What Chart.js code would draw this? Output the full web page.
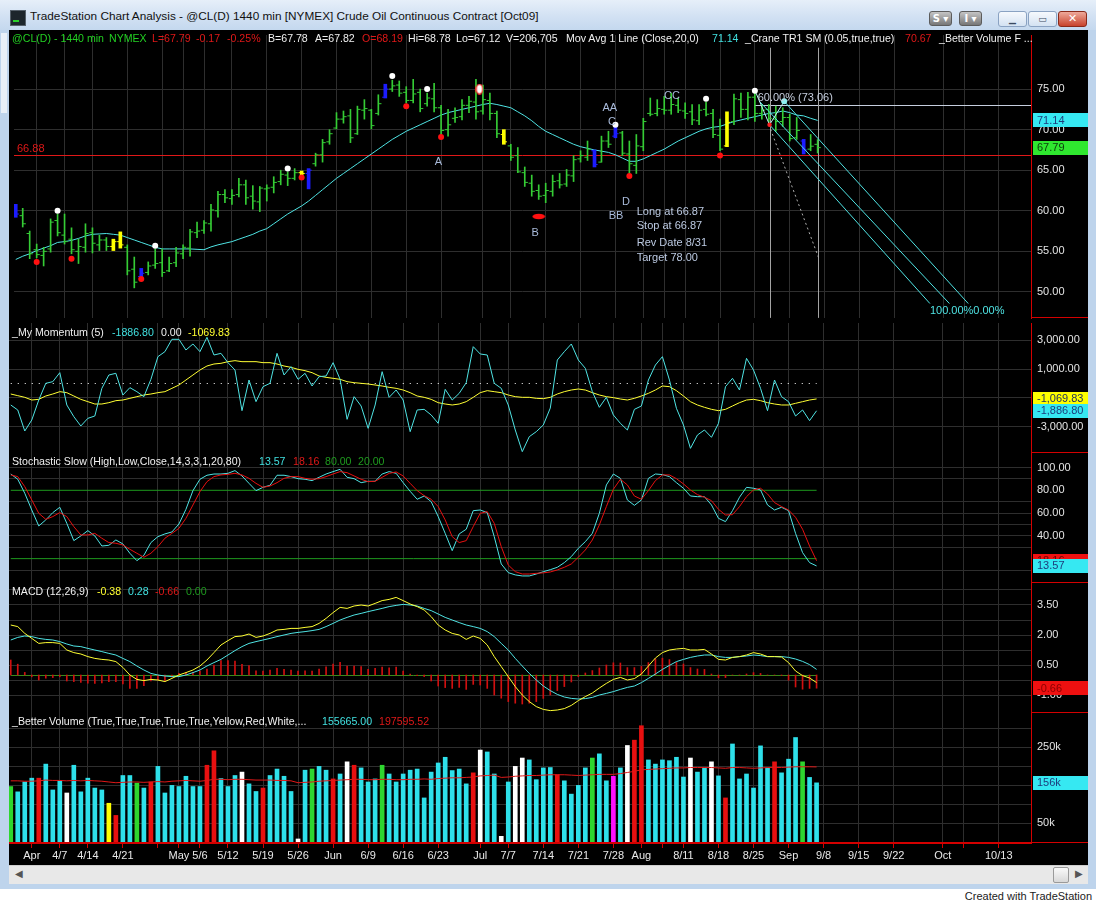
<!DOCTYPE html>
<html>
<head>
<meta charset="utf-8">
<title>TradeStation Chart Analysis - @CL(D)</title>
<script src="https://cdn.jsdelivr.net/npm/chart.js@4.4.1/dist/chart.umd.min.js"></script>
<style>
  body { margin: 0; background: #fff; font-family: 'Liberation Sans', Arial, sans-serif; }
  #frame { position: absolute; left: 0; top: 0; width: 1096px; height: 889px; background: #bed4ec; }
  #titlebar { position: absolute; left: 0; top: 0; width: 1096px; height: 30px;
              background: linear-gradient(#e6eff9, #d2e1f3 55%, #c4d8ee); }
  #appicon { position: absolute; left: 10px; top: 10px; width: 14px; height: 14px; background: #1d262c;
             border: 1px solid #55606a; }
  #appicon:after { content: ''; position: absolute; left: 2px; top: 9px; width: 6px; height: 2px; background: #2ad02a; }
  #title { position: absolute; left: 30px; top: 9px; font-size: 11.8px; color: #111; white-space: nowrap; }
  .gbtn { position: absolute; top: 11px; width: 21px; height: 13px; border-radius: 3px; border: 1px solid #5c5c5c;
          background: linear-gradient(#c4c4c4, #777); color: #fff; font: bold 10px 'DejaVu Sans', sans-serif;
          text-align: center; line-height: 13px; }
  .wbtn { position: absolute; top: 11px; width: 27px; height: 14px; border-radius: 3px; border: 1px solid #8aa2c2;
          background: linear-gradient(#f6f9fd, #d4e2f2); color: #3a4a60; font: bold 9px 'DejaVu Sans', sans-serif;
          text-align: center; line-height: 14px; }
  .wbtn.close { background: linear-gradient(#eea99a, #c8432c); border-color: #8a2a1a; color: #fff; font-size: 11px; }
  #leftstrip { position: absolute; left: 1px; top: 33px; width: 6px; height: 80px; background: #e9f0f8; }
  #plot { position: absolute; left: 9px; top: 30px; width: 1079px; height: 835px; background: #000; overflow: hidden; }
  #plot canvas { position: absolute; left: 0; }
  .hdr { position: absolute; left: 0; height: 14px; width: 1022px; font-size: 10.6px; line-height: 14px; white-space: nowrap; }
  .hdr span { position: absolute; top: 0; }
  #hscroll { position: absolute; left: 9px; top: 865px; width: 1079px; height: 18px; background: #e8e8e8;
             border-top: 1px solid #cfcfcf; }
  #hscroll .arrow { position: absolute; top: 2px; font: 10px 'DejaVu Sans', sans-serif; color: #555; }
  #hscroll .thumb { position: absolute; left: 1044px; top: 1px; width: 14px; height: 14px; border-radius: 2px;
                    border: 1px solid #9a9a9a; background: linear-gradient(#fafafa, #d8d8d8); }
  #credit { position: absolute; top: 890px; right: 4px; font-size: 11px; color: #222; }
</style>
</head>
<body>
<div id="frame">
  <div id="titlebar">
    <div id="appicon"></div>
    <div id="title">TradeStation Chart Analysis - @CL(D) 1440 min [NYMEX] Crude Oil Continuous Contract [Oct09]</div>
    <div class="gbtn" style="left:929px">S ▾</div>
    <div class="gbtn" style="left:959px">I ▾</div>
    <div class="wbtn" style="left:998px">▁</div>
    <div class="wbtn" style="left:1028px">▭</div>
    <div class="wbtn close" style="left:1058px">✕</div>
  </div>
  <div id="leftstrip"></div>
  <div id="plot">
    <canvas id="cPrice" width="1079" height="293" style="top:0"></canvas>
    <canvas id="cMom" width="1079" height="130" style="top:293px"></canvas>
    <canvas id="cStoch" width="1079" height="130" style="top:423px"></canvas>
    <canvas id="cMacd" width="1079" height="130" style="top:553px"></canvas>
    <canvas id="cVol" width="1079" height="152" style="top:683px"></canvas>

    <div class="hdr" style="top:1px">
      <span style="left:3px;color:#22d022">@CL(D) - 1440 min</span>
      <span style="left:100px;color:#22d022">NYMEX</span>
      <span style="left:143px;color:#e01818">L=67.79</span>
      <span style="left:187px;color:#e01818">-0.17</span>
      <span style="left:218px;color:#e01818">-0.25%</span>
      <span style="left:259px;color:#f0f0f0">B=67.78</span>
      <span style="left:306px;color:#f0f0f0">A=67.82</span>
      <span style="left:353px;color:#e01818">O=68.19</span>
      <span style="left:399px;color:#f0f0f0">Hi=68.78</span>
      <span style="left:447px;color:#f0f0f0">Lo=67.12</span>
      <span style="left:497px;color:#f0f0f0">V=206,705</span>
      <span style="left:557px;color:#f0f0f0">Mov Avg 1 Line (Close,20,0)</span>
      <span style="left:703px;color:#40e0e0">71.14</span>
      <span style="left:736px;color:#f0f0f0">_Crane TR1 SM (0.05,true,true)</span>
      <span style="left:896px;color:#e01818">70.67</span>
      <span style="left:930px;color:#f0f0f0">_Better Volume F ...</span>
    </div>
    <div class="hdr" style="top:295px">
      <span style="left:3px;color:#f0f0f0">_My Momentum (5)</span>
      <span style="left:103px;color:#40e0e0">-1886.80</span>
      <span style="left:152px;color:#f0f0f0">0.00</span>
      <span style="left:179px;color:#ffff30">-1069.83</span>
    </div>
    <div class="hdr" style="top:424px">
      <span style="left:3px;color:#f0f0f0">Stochastic Slow (High,Low,Close,14,3,3,1,20,80)</span>
      <span style="left:250px;color:#40e0e0">13.57</span>
      <span style="left:284px;color:#e01818">18.16</span>
      <span style="left:316px;color:#1e9a1e">80.00</span>
      <span style="left:349px;color:#1e9a1e">20.00</span>
    </div>
    <div class="hdr" style="top:554px">
      <span style="left:3px;color:#f0f0f0">MACD (12,26,9)</span>
      <span style="left:88px;color:#ffff30">-0.38</span>
      <span style="left:119px;color:#40e0e0">0.28</span>
      <span style="left:146px;color:#e01818">-0.66</span>
      <span style="left:177px;color:#1e9a1e">0.00</span>
    </div>
    <div class="hdr" style="top:684px">
      <span style="left:3px;color:#f0f0f0">_Better Volume (True,True,True,True,True,Yellow,Red,White,...</span>
      <span style="left:313px;color:#40e0e0">155665.00</span>
      <span style="left:370px;color:#e01818">197595.52</span>
    </div>
  </div>
  <div id="hscroll">
    <span class="arrow" style="left:6px">◀</span>
    <div class="thumb"></div>
    <span class="arrow" style="left:1066px">▶</span>
  </div>
</div>
<div id="credit">Created with TradeStation</div>

<script>
// daily bars, 27 Mar .. 4 Sep (116 sessions)
const priceHigh = [60.8,60.3,57.5,55.9,55.5,59.0,59.6,59.6,57.9,56.5,
  58.4,57.9,57.0,56.7,56.5,57.4,55.8,54.3,52.9,53.7,
  55.3,55.3,54.3,55.5,55.8,57.7,58.6,58.8,60.8,62.4,
  62.6,62.6,64.0,63.8,63.1,63.0,63.2,64.2,65.0,64.8,
  65.2,64.9,65.2,67.1,68.8,70.0,72.1,72.3,72.5,72.9,
  73.7,72.5,74.3,75.6,76.1,76.0,75.3,76.2,75.0,74.5,
  75.7,73.0,72.5,72.7,73.7,74.1,76.2,75.5,74.5,72.3,
  70.0,68.2,67.8,65.4,64.4,63.2,63.4,64.4,64.6,65.1,
  66.8,67.4,68.6,67.5,69.2,69.8,70.4,69.8,68.6,69.4,
  71.4,73.9,73.7,74.1,74.5,73.9,73.3,73.1,73.1,73.4,
  72.5,71.3,72.2,74.4,74.5,74.6,74.5,73.1,73.1,72.9,
  72.7,71.9,71.5,68.8,69.4,68.78];
const priceLow = [59.2,58.0,54.1,54.2,53.2,54.9,56.9,55.9,54.7,53.5,
  54.9,54.8,55.1,55.1,55.1,55.4,52.1,50.5,51.8,52.1,
  52.9,51.9,52.5,53.1,54.1,54.4,56.7,57.2,57.5,59.2,
  61.0,60.8,61.7,60.8,60.2,59.9,61.2,62.2,63.2,63.1,
  63.8,64.4,62.7,65.5,66.0,68.2,70.1,70.8,68.4,69.4,
  71.3,70.1,71.8,73.9,74.7,74.1,73.3,73.3,72.2,72.9,
  72.2,69.4,69.2,70.9,71.2,72.1,71.3,71.9,71.2,69.0,
  68.2,66.2,64.7,63.0,61.8,61.4,61.0,61.8,62.8,63.0,
  63.6,66.0,66.2,65.4,66.0,67.8,69.0,66.8,64.6,64.6,
  67.4,71.7,71.7,71.9,71.9,72.1,71.4,70.6,70.6,71.7,
  69.0,67.4,67.9,70.6,71.5,71.2,71.0,71.3,70.8,69.8,
  70.4,68.6,68.8,67.0,67.4,67.12];
const priceOpen = [60.2,59.4,57.2,55.2,54.5,55.3,58.8,57.0,56.5,55.0,
  55.5,57.3,55.8,56.4,55.6,56.2,55.5,52.8,51.9,52.4,
  53.3,53.6,52.6,53.6,54.7,55.4,57.3,57.6,58.4,60.0,
  62.0,61.5,62.0,63.2,61.8,61.1,62.7,62.9,63.6,64.4,
  64.0,64.7,64.6,65.8,66.9,68.5,70.2,71.3,71.7,69.5,
  72.4,72.4,72.0,74.0,75.0,75.5,74.6,73.6,74.6,73.2,
  73.8,72.7,70.0,71.4,71.6,73.0,73.4,72.3,73.6,72.0,
  69.4,68.0,66.8,64.7,63.4,62.5,61.9,62.4,63.7,63.3,
  64.3,66.4,66.6,67.4,66.0,68.6,69.2,69.6,67.0,65.6,
  67.9,72.0,72.0,72.5,72.4,73.0,72.3,72.2,71.1,72.5,
  72.0,69.3,68.0,71.0,73.7,72.5,74.0,72.0,72.5,71.3,
  71.0,71.5,69.0,68.6,67.6,68.19];
const priceClose = [59.6,58.4,54.7,54.6,55.0,58.6,57.3,56.2,55.2,55.6,
  57.2,56.0,56.4,55.6,56.2,55.8,52.6,51.2,52.3,53.2,
  53.5,52.4,53.5,54.8,55.5,57.4,57.5,58.5,60.1,62.0,
  61.6,61.9,63.2,61.6,61.2,62.8,62.8,63.5,64.5,64.0,
  64.7,64.6,65.0,66.9,68.4,69.5,71.3,71.6,69.0,72.5,
  72.6,70.5,73.2,75.0,75.4,74.5,73.6,74.4,72.6,73.9,
  72.7,69.9,70.6,71.5,73.0,73.5,72.2,73.7,72.0,69.5,
  68.5,66.6,64.8,63.5,62.4,61.8,62.5,63.6,63.2,64.4,
  66.3,66.8,67.6,65.7,68.6,68.2,69.5,67.1,65.8,68.0,
  71.0,71.9,72.6,72.4,73.1,72.4,72.0,71.2,72.4,71.9,
  69.4,67.6,70.9,73.8,72.5,74.0,72.0,72.4,71.4,71.0,
  71.5,68.9,69.9,67.5,67.96,67.79];
// bar paint: g green, b blue, y yellow
const barPaint = ('bggggggggg' + 'ggggyyggbg' + 'gggggggggg' + 'gggggggggg' + 'gybggggggg' +
  'gggbgggggg' + 'gggggggggg' + 'yggggggggg' + 'gggbggbggg' + 'gggggggggg' + 'ggyggggggg' + 'gggbgg').split('');
const ma20 = [54.0,54.4,54.7,55.1,55.4,55.7,56.1,56.2,56.35,56.6,
  56.9,57.1,57.15,57.2,57.1,57.0,56.7,56.4,56.1,55.8,
  55.5,55.3,55.3,55.3,55.3,55.3,55.25,55.2,55.55,55.8,
  56.0,56.2,56.5,56.8,57.1,57.5,57.8,58.4,59.0,59.6,
  60.1,60.6,61.2,61.9,62.6,63.3,64.0,64.6,65.2,65.8,
  66.4,67.0,67.6,68.2,68.8,69.3,69.8,70.2,70.6,71.0,
  71.4,71.8,72.1,72.3,72.5,72.7,72.9,73.1,73.25,73.1,
  72.9,72.7,72.2,71.7,71.1,70.4,69.8,69.4,69.0,68.6,
  68.2,67.9,67.7,67.5,67.35,67.2,66.9,66.5,66.1,66.1,
  66.4,66.8,67.2,67.6,68.1,68.6,69.0,69.4,69.8,70.1,
  70.3,70.4,70.7,71.0,71.2,71.4,71.6,71.8,72.0,72.1,
  72.3,72.1,71.8,71.7,71.4,71.14];

// signal markers on the price pane
const redDotIdx = [3, 8, 18, 41, 56, 61, 88, 101];
const redDotVal = [53.7, 54.1, 51.6, 64.1, 72.9, 69.1, 64.3, 66.8];
const whiteDotIdx = [6, 20, 39, 54, 59, 86, 99, 106];
const whiteDotVal = [60.0, 55.7, 65.2, 76.6, 75.0, 70.6, 73.8, 74.8];
const ringDot = [66.5, 75.0];
const ovalDot = [75, 59.3];
// pitchfork pivots P1, P2, P3 and its tines
const pivots = [[106.0, 74.85], [108.1, 70.6], [110.2, 73.49]];
const tines = [[[108.1, 70.6], [131.1, 48.57]], [[106.6, 73.54], [133.9, 48.57]], [[110.2, 73.49], [136.6, 48.57]]];
const projection = [[108.0, 70.63], [115.2, 54.08]];
const stopLevel = 66.88;
const fibLevel = 73.06;

const momentum = [-1488,-1834,-3287,-2526,-1142,12,127,750,-1488,-2295,
  -2941,-2411,-2249,-335,588,704,-796,-288,-565,-911,
  288,1857,2203,3057,3057,2318,2734,2203,3195,1972,
  2088,1442,934,-1880,242,-1257,-219,12,2088,588,
  1165,288,704,-173,473,519,1442,288,-2480,-911,
  -1557,-3103,-1488,819,-957,-450,-1142,-3333,-1834,-1788,
  -2180,-2757,-404,-1142,-680,58,2549,2042,1972,12,
  -335,-1488,-3218,-4717,-3679,-3333,-2872,-1700,1626,2203,
  2734,1626,1050,-565,-1649,-957,-2180,-2757,-3218,-1788,
  -1557,242,1280,1857,242,-1718,-2872,-4487,-3564,-3218,
  -3725,-2757,-219,358,-450,1742,934,-335,-1880,242,
  -911,-1257,-2249,-1834,-2572,-1887];
const momentumAvg = [-727,-842,-957,-1142,-1096,-865,-727,-565,-634,-865,
  -1096,-1257,-1419,-1419,-1326,-1188,-1142,-1027,-911,-796,
  -727,-634,-565,-335,-104,242,588,934,1211,1349,
  1396,1511,1580,1511,1511,1511,1442,1442,1349,1211,
  1119,980,888,750,519,427,358,288,127,58,
  12,-35,-104,-173,-265,-335,-450,-634,-865,-957,
  -1096,-1326,-1419,-1488,-1419,-1257,-957,-634,-496,-565,
  -634,-796,-911,-957,-957,-1027,-1050,-957,-727,-565,
  -450,-381,-450,-634,-796,-911,-980,-1073,-1142,-1027,
  -865,-681,-450,-173,-219,-496,-865,-1257,-1488,-1649,
  -1788,-1880,-1788,-1557,-1326,-1142,-1096,-1188,-1326,-1419,
  -1488,-1488,-1373,-1257,-1142,-1070];

const stochK = [94.3,89.7,77.4,62.7,48.7,54.0,60.4,65.1,51.0,35.8,
  39.9,44.6,39.9,31.1,31.7,36.4,32.9,24.7,18.2,22.9,
  34.1,39.3,41.7,43.4,50.4,63.3,79.7,89.7,93.2,94.3,
  94.3,94.9,97.3,92.6,86.1,79.7,82.6,84.4,93.2,93.2,
  92.0,90.2,89.7,88.5,91.4,94.3,96.4,98.4,91.4,90.2,
  86.7,87.9,87.9,94.3,96.4,94.9,86.7,79.1,72.1,75.0,
  70.0,56.9,42.2,27.0,41.7,45.8,62.1,62.7,60.4,39.3,
  15.3,7.7,5.7,4.8,4.8,6.5,8.5,10.3,12.4,16.5,
  21.8,29.1,34.9,42.2,59.8,84.7,94.3,90.5,71.5,66.8,
  71.5,90.5,94.3,93.8,92.0,86.7,81.8,75.0,74.4,74.4,
  67.1,55.4,52.5,62.1,73.9,82.6,81.8,80.3,67.1,62.7,
  65.1,62.1,42.2,25.3,16.5,13.57];
const stochD = [93.5,92.0,83.2,71.5,59.8,54.5,56.9,60.4,56.9,48.1,
  40.8,40.8,42.2,37.9,34.1,33.5,32.0,28.2,24.7,21.2,
  24.7,30.5,37.9,42.2,46.6,55.4,67.1,78.8,87.6,92.0,
  93.5,94.0,94.9,93.5,90.5,86.1,82.6,83.8,86.7,90.5,
  92.0,92.0,90.5,89.7,90.2,92.0,94.3,96.4,95.5,92.6,
  89.7,87.6,87.9,91.4,94.9,96.1,92.6,86.1,79.7,75.3,
  72.1,65.7,54.0,39.3,34.1,35.8,48.1,59.8,61.3,51.0,
  30.5,14.4,8.6,6.5,6.5,7.1,7.5,8.3,10.1,12.4,
  15.3,21.2,27.6,36.4,49.6,65.7,80.9,89.7,84.7,75.0,
  72.1,79.7,88.5,93.5,93.5,90.2,85.6,80.3,76.2,73.9,
  70.9,63.3,58.3,58.6,65.7,74.4,80.3,81.8,76.8,69.2,
  65.7,62.7,56.3,45.8,31.1,18.16];
const stochLevels = [80, 20];

const macdLine = [2.50,2.42,2.08,1.83,1.58,1.62,1.62,1.58,1.25,1.12,
  1.05,0.92,0.83,0.78,0.75,0.67,0.38,0.00,-0.22,-0.28,
  -0.22,-0.25,-0.33,-0.17,0.00,0.12,0.25,0.45,0.75,1.12,
  1.50,1.72,1.92,1.95,2.05,1.88,1.95,2.08,2.25,2.28,
  2.33,2.33,2.38,2.42,2.58,2.83,3.12,3.38,3.33,3.45,
  3.50,3.45,3.58,3.72,3.78,3.88,3.72,3.55,3.42,3.25,
  2.92,2.50,2.25,2.08,2.00,1.78,1.95,1.83,1.50,0.92,
  0.42,-0.08,-0.58,-1.00,-1.33,-1.58,-1.72,-1.78,-1.75,-1.68,
  -1.52,-1.28,-1.08,-0.90,-0.65,-0.42,-0.22,-0.12,-0.25,-0.18,
  0.05,0.45,0.85,1.12,1.25,1.30,1.33,1.25,1.25,1.28,
  1.05,0.78,0.75,0.88,0.92,1.00,1.12,1.05,0.92,0.92,
  0.90,0.62,0.20,-0.03,-0.15,-0.38];
const macdSignal = [1.75,1.88,1.95,1.92,1.83,1.78,1.75,1.67,1.55,1.45,
  1.42,1.33,1.25,1.17,1.08,1.00,0.83,0.67,0.45,0.25,
  0.08,0.00,-0.05,-0.08,-0.08,0.00,0.12,0.25,0.45,0.62,
  0.78,1.00,1.22,1.42,1.58,1.67,1.75,1.83,1.92,2.00,
  2.08,2.13,2.17,2.22,2.28,2.42,2.58,2.75,2.88,3.00,
  3.08,3.17,3.25,3.33,3.42,3.48,3.53,3.50,3.45,3.33,
  3.22,3.05,2.88,2.75,2.62,2.50,2.42,2.33,2.17,1.92,
  1.58,1.25,0.83,0.45,0.08,-0.25,-0.55,-0.78,-0.97,-1.10,
  -1.17,-1.20,-1.18,-1.12,-1.00,-0.92,-0.83,-0.72,-0.62,-0.55,
  -0.38,-0.17,0.05,0.28,0.48,0.67,0.78,0.88,0.95,1.00,
  1.00,0.92,0.88,0.88,0.92,0.95,1.00,0.97,0.92,0.92,
  0.92,0.88,0.80,0.68,0.52,0.28];
const macdDiff = [0.75,0.54,0.13,-0.09,-0.25,-0.16,-0.13,-0.09,-0.30,-0.33,
  -0.37,-0.41,-0.42,-0.39,-0.33,-0.33,-0.45,-0.67,-0.67,-0.53,
  -0.30,-0.25,-0.28,-0.09,0.08,0.12,0.13,0.20,0.30,0.50,
  0.72,0.72,0.70,0.53,0.47,0.21,0.20,0.25,0.33,0.28,
  0.25,0.20,0.21,0.20,0.30,0.41,0.54,0.63,0.45,0.45,
  0.42,0.28,0.33,0.39,0.36,0.40,0.19,0.05,-0.03,-0.08,
  -0.30,-0.55,-0.63,-0.67,-0.62,-0.72,-0.47,-0.50,-0.67,-1.00,
  -1.16,-1.33,-1.41,-1.45,-1.41,-1.33,-1.17,-1.00,-0.78,-0.58,
  -0.35,-0.08,0.10,0.22,0.35,0.50,0.61,0.60,0.37,0.37,
  0.43,0.62,0.80,0.84,0.77,0.63,0.55,0.37,0.30,0.28,
  0.05,-0.14,-0.13,0.00,0.00,0.05,0.12,0.08,0.00,0.00,
  -0.02,-0.26,-0.60,-0.71,-0.67,-0.66];

// volume in thousands of contracts
const volume = [146,132,158,168,168,205,137,160,129,202,
  132,168,142,137,102,70,175,175,155,142,
  158,199,129,149,146,173,146,146,202,240,
  167,146,175,184,153,133,142,175,192,173,
  133,8,189,192,199,189,166,179,211,202,
  195,158,166,202,179,158,179,189,192,116,
  184,208,223,188,192,153,182,242,237,179,
  15,158,199,221,216,164,195,196,177,161,
  126,149,195,221,232,161,173,195,254,268,
  306,216,205,216,214,223,171,221,184,195,
  211,174,116,258,166,179,142,253,195,211,
  182,218,275,211,170,155.665];
// c cyan, r red, w white, g green, y yellow, m magenta
const volumePaint = ('gcccrcccwc' + 'ccccyrccgc' + 'rcccccccrr' + 'cccwccrccc' + 'cwcgccrcwr' +
  'cccgcccccc' + 'ccccccrwcc' + 'wcwwccccrc' + 'cccgccmcwr' + 'rccccccwcc' + 'wcrccccccr' + 'cccgcc').split('');
const volumeAvg = [161,161,160,160,161,163,162,162,161,162,
  161,162,161,160,158,156,157,158,158,157,
  158,159,158,160,161,162,161,160,162,165,
  165,164,165,165,164,163,163,163,162,162,
  161,156,157,158,160,161,162,163,164,165,
  165,164,164,165,165,164,164,165,165,166,
  165,167,168,169,169,170,171,174,175,176,
  170,171,173,174,175,175,176,177,177,177,
  176,175,176,177,178,178,178,180,183,186,
  190,191,192,193,194,195,195,196,196,196,
  196,195,194,196,196,195,194,195,196,196,
  196,197,198,198,198,197.596];

// time axis: bar index of each weekly mark and its label
const tickIdx = [3,7,11,16,21,24,27,31,36,41,46,51,56,61,67,71,76,81,86,90,93,96,101,106,111,116,121,126,133,136,141];
const tickLabels = ['Apr','4/7','4/14','4/21','','May','5/6','5/12','5/19','5/26','Jun','6/9','6/16','6/23','Jul',
  '7/7','7/14','7/21','7/28','Aug','','8/11','8/18','8/25','Sep','9/8','9/15','9/22','Oct','','10/13'];
// value-axis grid marks (labels on every other mark where the pane does so)
const priceTicks = [50, 55, 60, 65, 70, 75];
const momTicks = [-3000, -1000, 1000, 3000];
const stochTicks = [10, 30, 40, 50, 60, 70, 90, 100];
const stochLabelTicks = [20, 40, 60, 80, 100];
const macdTicks = [-1, -0.25, 0.5, 1.25, 2, 2.75, 3.5, 4.25];
const volTicks = [50, 100, 150, 200, 250, 300];

const FONT = "'Liberation Sans', Arial, sans-serif";
const GRID = '#2e2e2e';
const AXIS_RED = '#d40000';
const CYAN = '#4fe4e4';
const YELLOW = '#ffff33';
const RED = '#e01818';
const LEVEL_GREEN = '#1e9a1e';
const NOTE = '#a9bbdb';
const X_MIN = -0.25, X_MAX = 145.6;
const lastIdx = priceHigh.length - 1;
const idx = priceHigh.map((_, i) => i);

Chart.defaults.font.family = FONT;
Chart.defaults.font.size = 11;
Chart.defaults.color = '#e4e4e4';

// level lines, marker text, axis badges
const overlay = {
  id: 'overlay',
  beforeDatasetsDraw(chart, args, o) {
    const { ctx, chartArea: a, scales: { x, y } } = chart;
    ctx.save();
    ctx.beginPath(); ctx.rect(a.left, a.top, a.width, a.height); ctx.clip();
    (o.levels || []).forEach(l => {
      const py = Math.round(y.getPixelForValue(l.value)) + 0.5;
      const x0 = l.from == null ? a.left : x.getPixelForValue(l.from);
      const x1 = l.to == null ? a.right : x.getPixelForValue(l.to);
      ctx.strokeStyle = l.color; ctx.lineWidth = 1; ctx.setLineDash(l.dash || []);
      ctx.beginPath(); ctx.moveTo(x0, py); ctx.lineTo(x1, py); ctx.stroke();
      if (l.label) {
        ctx.setLineDash([]); ctx.fillStyle = l.color; ctx.font = '11px ' + FONT;
        ctx.textAlign = 'left'; ctx.textBaseline = 'bottom';
        ctx.fillText(l.label, a.left + 3, py - 1);
      }
    });
    (o.vlines || []).forEach(v => {
      const px = Math.round(x.getPixelForValue(v.value)) + 0.5;
      ctx.strokeStyle = v.color; ctx.lineWidth = 1; ctx.setLineDash([]);
      ctx.beginPath(); ctx.moveTo(px, y.getPixelForValue(v.from)); ctx.lineTo(px, y.getPixelForValue(v.to)); ctx.stroke();
    });
    ctx.restore();
  },
  afterDatasetsDraw(chart, args, o) {
    const { ctx, scales: { x, y } } = chart;
    ctx.save();
    (o.notes || []).forEach(n => {
      ctx.fillStyle = n.color; ctx.font = '11px ' + FONT;
      ctx.textAlign = n.align || 'center'; ctx.textBaseline = 'middle';
      ctx.fillText(n.text, x.getPixelForValue(n.x), y.getPixelForValue(n.y));
    });
    ctx.restore();
  },
  afterDraw(chart, args, o) {
    const { ctx, chartArea: a, scales: { y } } = chart;
    ctx.save();
    // extra scale labels that have no grid line of their own
    (o.axisLabels || []).forEach(v => {
      ctx.fillStyle = '#e4e4e4'; ctx.font = '11px ' + FONT; ctx.textAlign = 'left'; ctx.textBaseline = 'middle';
      ctx.fillText(v.toFixed(2), a.right + 6, y.getPixelForValue(v));
    });
    (o.badges || []).forEach(b => {
      const py = y.getPixelForValue(b.value);
      ctx.fillStyle = b.bg;
      ctx.fillRect(a.right + 2, Math.round(py - 7), chart.width - a.right - 2, 14);
      ctx.fillStyle = b.fg; ctx.font = '11px ' + FONT; ctx.textAlign = 'left'; ctx.textBaseline = 'middle';
      ctx.fillText(b.text, a.right + 6, py + 0.5);
    });
    // pane separator in the scale column (full width under the time axis)
    ctx.strokeStyle = AXIS_RED; ctx.lineWidth = 1;
    const by = Math.round(a.bottom) - 0.5;
    ctx.beginPath(); ctx.moveTo(o.fullSep ? 0 : a.right, by); ctx.lineTo(chart.width, by); ctx.stroke();
    ctx.restore();
  }
};
Chart.register(overlay);

function xScale(showLabels) {
  return {
    type: 'linear', min: X_MIN, max: X_MAX, offset: false,
    afterBuildTicks: s => { s.ticks = tickIdx.map(v => ({ value: v })); },
    afterFit: s => { s.height = showLabels ? 22 : 0; s.paddingLeft = 0; s.paddingRight = 0; },
    ticks: { display: showLabels, autoSkip: false, maxRotation: 0, minRotation: 0, padding: 1,
             color: '#e8e8e8', callback: (v, i) => tickLabels[i] },
    grid: { color: GRID, offset: false, drawTicks: showLabels, tickLength: 5, tickColor: AXIS_RED },
    border: { display: showLabels, color: AXIS_RED }
  };
}

function yScale(min, max, ticks, fmt) {
  return {
    position: 'right', min, max,
    afterBuildTicks: s => { s.ticks = ticks.map(v => ({ value: v })); },
    // fixed scale column, and no label overhang padding so the pane fills its canvas
    afterFit: s => { s.width = 57; s.paddingTop = 0; s.paddingBottom = 0; },
    ticks: { color: '#e4e4e4', padding: 6, callback: fmt },
    grid: { drawTicks: false, color: GRID },
    border: { color: AXIS_RED }
  };
}

const series = arr => arr.map((v, i) => ({ x: i, y: v }));
const pairs = arr => arr.map(([x, y]) => ({ x, y }));
const levelLine = v => [{ x: 0, y: v }, { x: lastIdx, y: v }];
function lineDs(data, color, extra) {
  return Object.assign({ type: 'line', data, borderColor: color, borderWidth: 1, pointRadius: 0,
                         tension: 0, fill: false }, extra || {});
}
function dotDs(data, color, radius, extra) {
  return Object.assign({ type: 'scatter', data, pointRadius: radius, pointBackgroundColor: color,
                         pointBorderWidth: 0, pointStyle: 'circle' }, extra || {});
}
function ovalStyle(w, h, fill, stroke) {
  const c = document.createElement('canvas');
  c.width = w; c.height = h;
  const g = c.getContext('2d');
  g.beginPath(); g.ellipse(w / 2, h / 2, w / 2 - 0.7, h / 2 - 0.7, 0, 0, Math.PI * 2);
  g.fillStyle = fill; g.fill();
  if (stroke) { g.strokeStyle = stroke; g.lineWidth = 1.3; g.stroke(); }
  return c;
}

function panel(id, datasets, y, overlayOpts, showX) {
  return new Chart(document.getElementById(id), {
    type: 'line',
    data: { datasets },
    options: {
      responsive: false, animation: false, events: [],
      layout: { padding: 0 },
      scales: { x: xScale(showX), y },
      plugins: { legend: { display: false }, tooltip: { enabled: false }, overlay: overlayOpts }
    }
  });
}

// ---------- price pane ----------
const PAINT = { g: '#35cc35', b: '#1c1cff', y: '#ffff00' };
const paintOf = i => PAINT[barPaint[i]];
const thinBars = idx.filter(i => barPaint[i] === 'g').map(i => ({ x: i, y: [priceLow[i], priceHigh[i]] }));
const wideBars = idx.filter(i => barPaint[i] !== 'g').map(i => ({ x: i, y: [priceLow[i], priceHigh[i]] }));

panel('cPrice', [
  dotDs(whiteDotIdx.map((v, i) => ({ x: v, y: whiteDotVal[i] })), '#ffffff', 3),
  dotDs(redDotIdx.map((v, i) => ({ x: v, y: redDotVal[i] })), '#ff1010', 3),
  dotDs([{ x: pivots[1][0], y: pivots[1][1] }], '#ff2020', 2.2),
  dotDs([{ x: pivots[2][0], y: pivots[2][1] }], '#8ff0f0', 3),
  dotDs([{ x: ringDot[0], y: ringDot[1] }], '#fff', 4, { pointStyle: ovalStyle(8, 11, '#ffffff', '#ff2020') }),
  dotDs([{ x: ovalDot[0], y: ovalDot[1] }], '#f00', 5, { pointStyle: ovalStyle(14, 7, '#ff1010') }),
  lineDs(pairs(pivots), '#b8f0f0'),
  ...tines.map(t => lineDs(pairs(t), CYAN)),
  lineDs(pairs(projection), '#b0b0b0', { borderDash: [2, 3] }),
  { type: 'scatter', data: idx.map(i => ({ x: i - 0.22, y: priceOpen[i] })), pointStyle: 'line', pointRadius: 1.6,
    pointBorderWidth: 1, pointBorderColor: c => paintOf(c.dataIndex) },
  { type: 'scatter', data: idx.map(i => ({ x: i + 0.22, y: priceClose[i] })), pointStyle: 'line', pointRadius: 1.6,
    pointBorderWidth: 1, pointBorderColor: c => paintOf(c.dataIndex) },
  { type: 'bar', data: wideBars, grouped: false, barThickness: 3,
    backgroundColor: c => paintOf(c.raw.x) },
  { type: 'bar', data: thinBars, grouped: false, barThickness: 1, backgroundColor: PAINT.g },
  lineDs(series(ma20), CYAN)
], yScale(46.786, 81.667, priceTicks, v => v.toFixed(2)), {
  levels: [
    { value: stopLevel, color: RED, label: stopLevel.toFixed(2) },
    { value: fibLevel, from: pivots[0][0], color: '#c6cede' }
  ],
  vlines: [
    { value: 108.1, from: 80.1, to: 46.8, color: '#a4a4a4' },
    { value: 115.1, from: 80.1, to: 46.8, color: '#a4a4a4' }
  ],
  notes: [
    { text: 'A', x: 60.6, y: 66.07, color: NOTE },
    { text: 'B', x: 74.5, y: 57.26, color: NOTE },
    { text: 'AA', x: 85.2, y: 72.62, color: NOTE },
    { text: 'C', x: 85.5, y: 70.95, color: NOTE },
    { text: 'CC', x: 94.1, y: 74.17, color: NOTE },
    { text: 'D', x: 87.5, y: 61.07, color: NOTE },
    { text: 'BB', x: 86.1, y: 59.4, color: NOTE },
    { text: 'Long at 66.87', x: 89.06, y: 59.88, color: '#bccae2', align: 'left' },
    { text: 'Stop at 66.87', x: 89.06, y: 58.1, color: '#bccae2', align: 'left' },
    { text: 'Rev Date 8/31', x: 89.06, y: 56.07, color: '#bccae2', align: 'left' },
    { text: 'Target 78.00', x: 89.06, y: 54.17, color: '#bccae2', align: 'left' },
    { text: '60.00% (73.06)', x: 106.4, y: 73.93, color: '#c6cede', align: 'left' },
    { text: '100.00%0.00%', x: 131.1, y: 47.62, color: CYAN, align: 'left' }
  ],
  badges: [
    { value: 71.14, text: '71.14', bg: '#36e8f2', fg: '#1d3d7d' },
    { value: priceClose[lastIdx], text: priceClose[lastIdx].toFixed(2), bg: '#2fe82f', fg: '#0c3a0c' }
  ]
}, false);

// ---------- momentum pane ----------
const money = v => v.toLocaleString('en-US', { minimumFractionDigits: 2, maximumFractionDigits: 2 });
panel('cMom', [
  lineDs(series(momentum), CYAN),
  lineDs(series(momentumAvg), YELLOW)
], yScale(-4810, 4187, momTicks, money), {
  levels: [{ value: 0, from: 0, to: lastIdx, color: '#ffffff', dash: [1, 6] }],
  badges: [
    { value: momentumAvg[lastIdx], text: money(-1069.83), bg: '#ffff00', fg: '#1d2d5d' },
    { value: momentum[lastIdx], text: money(-1886.80), bg: '#36e8f2', fg: '#1d3d7d' }
  ]
}, false);

// ---------- stochastic pane ----------
panel('cStoch', [
  lineDs(series(stochD), '#e81010'),
  lineDs(series(stochK), CYAN),
  ...stochLevels.map(v => lineDs(levelLine(v), LEVEL_GREEN))
], yScale(-1.4, 112.75, stochTicks, v => (v % 20 === 0 ? v.toFixed(2) : '')), {
  axisLabels: stochLabelTicks.filter(v => !stochTicks.includes(v)),
  badges: [
    { value: stochD[lastIdx], text: stochD[lastIdx].toFixed(2), bg: '#ee1010', fg: '#6a0000' },
    { value: stochK[lastIdx], text: stochK[lastIdx].toFixed(2), bg: '#36e8f2', fg: '#1d3d7d' }
  ]
}, false);

// ---------- MACD pane ----------
panel('cMacd', [
  lineDs(series(macdLine), YELLOW),
  lineDs(series(macdSignal), CYAN),
  { type: 'bar', data: macdDiff.map((v, i) => ({ x: i, y: [0, v] })), grouped: false, barThickness: 1,
    backgroundColor: '#d01010' }
], yScale(-1.9, 4.6, macdTicks, v => ([-1, 0.5, 2, 3.5].includes(v) ? v.toFixed(2) : '')), {
  levels: [{ value: 0, from: 0, to: lastIdx, color: '#3a8a1a' }],
  badges: [{ value: macdDiff[lastIdx], text: macdDiff[lastIdx].toFixed(2), bg: '#ee1010', fg: '#8a0000' }]
}, false);

// ---------- volume pane ----------
const VPAINT = { c: '#2ee0ea', r: '#e81010', w: '#ffffff', g: '#2ed62e', y: '#ffff00', m: '#ff10ff' };
panel('cVol', [
  lineDs(series(volumeAvg), '#e01818'),
  { type: 'bar', data: volume.map((v, i) => ({ x: i, y: [0, v] })), grouped: false, barThickness: 4,
    backgroundColor: c => VPAINT[volumePaint[c.dataIndex]] }
], yScale(-2.6, 339.5, volTicks, v => (v % 100 === 50 ? v + 'k' : '')), {
  fullSep: true,
  badges: [{ value: volume[lastIdx], text: Math.round(volume[lastIdx]) + 'k', bg: '#36e8f2', fg: '#1d3d7d' }]
}, true);
</script>
</body>
</html>
